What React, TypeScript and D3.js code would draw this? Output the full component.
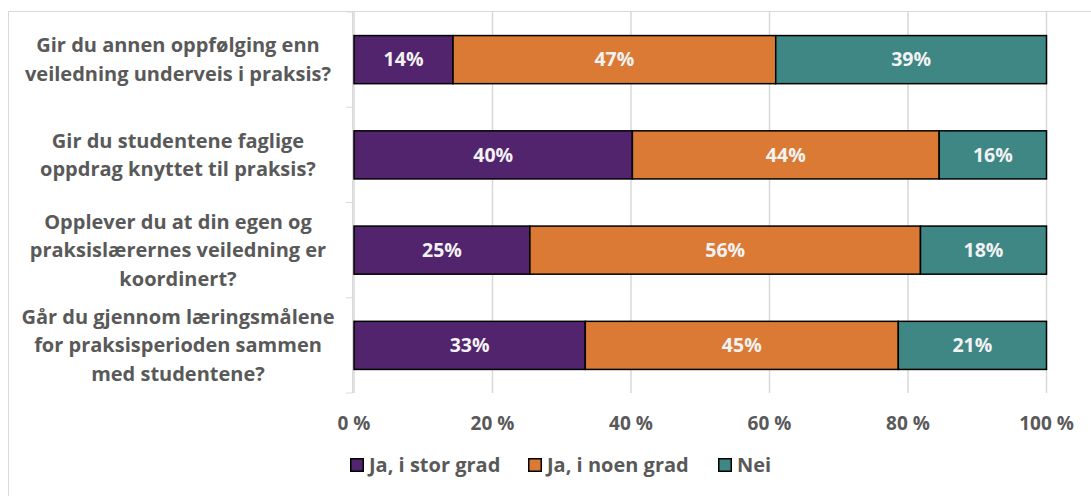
import React from "react";
import * as d3 from "d3";

const categories: string[][] = [
  ["Gir du annen oppfølging enn", "veiledning underveis i praksis?"],
  ["Gir du studentene faglige", "oppdrag knyttet til praksis?"],
  ["Opplever du at din egen og", "praksislærernes veiledning er", "koordinert?"],
  ["Går du gjennom læringsmålene", "for praksisperioden sammen", "med studentene?"],
];
const seriesNames = ["Ja, i stor grad", "Ja, i noen grad", "Nei"];
const storGrad = [14.3, 40.2, 25.4, 33.4];
const noenGrad = [46.6, 44.3, 56.4, 45.2];
const nei = [39.1, 15.5, 18.2, 21.4];
const xTicks = [0, 20, 40, 60, 80, 100];
const colors = ["#52246E", "#DB7A35", "#3E8785"];

const W = 1091;
const H = 496;
const FONT = "'Open Sans', 'Liberation Sans', sans-serif";

export default function App() {
  const series = [storGrad, noenGrad, nei];
  const x = d3.scaleLinear().domain([0, 100]).range([354, 1046.5]);
  const y = d3
    .scaleBand<number>()
    .domain(d3.range(categories.length))
    .range([12, 393])
    .paddingInner(0.495)
    .paddingOuter(0.2475);
  const step = y.step();
  const plotTop = 12;
  const plotBottom = 393;
  const rows = categories.map((_, i) => {
    let acc = 0;
    return series.map((s, k) => {
      const x0 = acc;
      acc += s[i];
      return { k, x0, x1: acc, v: s[i] };
    });
  });

  const legendX = [350, 528, 718];

  return (
    <svg width={W} height={H} style={{ position: "absolute", left: 0, top: 0, background: "#fff" }}>
      <rect x={8.5} y={11.5} width={W + 10} height={H + 10} fill="#fff" stroke="#D9D9D9" strokeWidth={1} />
      {xTicks.map((t) => (
        <line key={t} x1={x(t)} x2={x(t)} y1={plotTop} y2={plotBottom} stroke="#D9D9D9" strokeWidth={1.5} />
      ))}
      {/* category axis */}
      <line x1={352.5} x2={352.5} y1={plotTop} y2={plotBottom} stroke="#D9D9D9" strokeWidth={1} />
      {d3.range(categories.length + 1).map((i) => (
        <line
          key={i}
          x1={346}
          x2={352.5}
          y1={plotTop + i * step}
          y2={plotTop + i * step}
          stroke="#D9D9D9"
          strokeWidth={1}
        />
      ))}
      {rows.map((segs, i) =>
        segs.map((s) => (
          <g key={`${i}-${s.k}`}>
            <rect
              x={x(s.x0)}
              y={y(i)!}
              width={x(s.x1) - x(s.x0)}
              height={y.bandwidth()}
              fill={colors[s.k]}
              stroke="#000"
              strokeWidth={1.5}
            />
            <text
              x={(x(s.x0) + x(s.x1)) / 2}
              y={y(i)! + y.bandwidth() / 2}
              dy="0.35em"
              textAnchor="middle"
              fill="#F2F2F2"
              fontFamily={FONT}
              fontWeight={700}
              fontSize={19.5}
            >
              {Math.round(s.v)}%
            </text>
          </g>
        ))
      )}
      {categories.map((lines, i) => {
        const cy = plotTop + (i + 0.5) * step;
        const lh = 28.5;
        return (
          <text
            key={i}
            textAnchor="middle"
            fill="#595959"
            fontFamily={FONT}
            fontWeight={700}
            fontSize={20}
          >
            {lines.map((l, j) => (
              <tspan key={j} x={178} y={cy + (j - (lines.length - 1) / 2) * lh} dy="0.35em">
                {l}
              </tspan>
            ))}
          </text>
        );
      })}
      {xTicks.map((t) => (
        <text
          key={t}
          x={x(t)}
          y={423}
          dy="0.35em"
          textAnchor="middle"
          fill="#595959"
          fontFamily={FONT}
          fontWeight={700}
          fontSize={19}
        >
          {t} %
        </text>
      ))}
      {seriesNames.map((n, k) => (
        <g key={n}>
          <rect x={legendX[k] + 0.75} y={458.75} width={12.5} height={12.5} fill={colors[k]} stroke="#000" strokeWidth={1.5} />
          <text
            x={legendX[k] + 19}
            y={465}
            dy="0.35em"
            fill="#595959"
            fontFamily={FONT}
            fontWeight={700}
            fontSize={20}
          >
            {n}
          </text>
        </g>
      ))}
    </svg>
  );
}
